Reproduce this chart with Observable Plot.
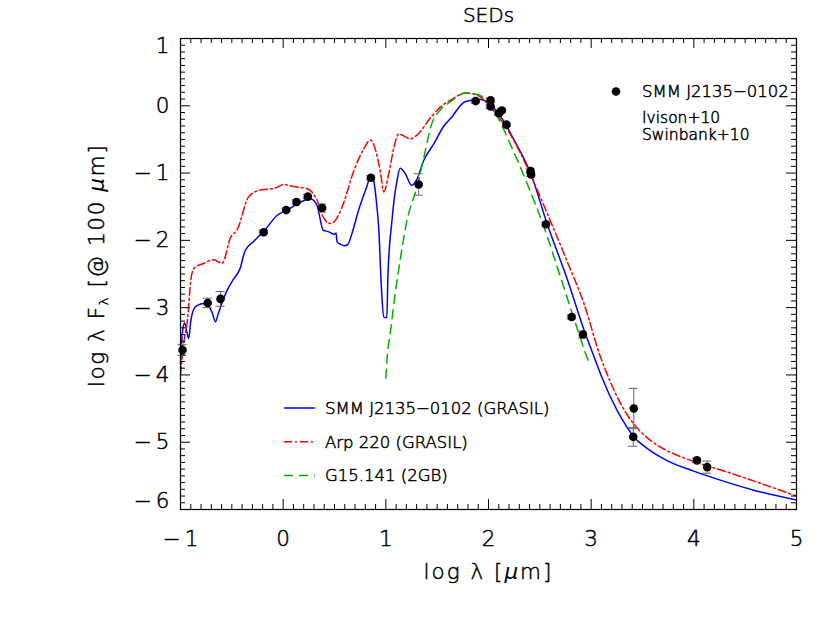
<!DOCTYPE html>
<html><head><meta charset="utf-8">
<script src="https://cdn.jsdelivr.net/npm/d3@7"></script>
<script src="https://cdn.jsdelivr.net/npm/@observablehq/plot@0.6"></script>
<style>
html,body{margin:0;padding:0;background:#fff;}
svg text{font-weight:200;stroke:#000;stroke-width:0.5px;}
svg text tspan.it{stroke-width:0;}
</style></head><body><div id="chart"></div>
<script>
// ---- Model curves (log lambda [um], log lambda F_lambda normalised @100um)
const blueX = [-1.00,-0.98,-0.96,-0.94,-0.92,-0.90,-0.87,-0.84,-0.77,-0.72,-0.69,-0.66,-0.63,-0.61,-0.545,-0.48,-0.42,-0.37,-0.29,-0.19,-0.06,0.04,0.135,0.265,0.33,0.39,0.44,0.50,0.515,0.525,0.56,0.60,0.63,0.67,0.735,0.815,0.855,0.88,0.91,0.93,0.96,0.98,1.01,1.02,1.06,1.11,1.14,1.19,1.25,1.30,1.37,1.47,1.565,1.63,1.776,1.92,2.00,2.085,2.25,2.41,2.57,2.77,2.93,3.04,3.10,3.25,3.35,3.42,3.50,3.60,3.75,4.00,4.25,4.60,5.00];
const blueY = [-3.85,-3.35,-3.23,-3.35,-3.46,-3.20,-3.02,-2.97,-2.94,-2.99,-3.08,-3.21,-3.08,-2.99,-2.74,-2.57,-2.42,-2.15,-2.02,-1.87,-1.63,-1.55,-1.46,-1.38,-1.48,-1.85,-1.87,-1.91,-1.89,-2.02,-2.06,-2.08,-2.06,-1.90,-1.55,-1.20,-1.03,-1.10,-1.45,-1.80,-2.79,-3.14,-3.15,-2.54,-1.70,-1.10,-0.93,-1.01,-1.18,-1.10,-0.81,-0.56,-0.30,-0.19,0.065,0.094,0.04,-0.09,-0.51,-1.00,-1.75,-2.59,-3.33,-3.78,-4.02,-4.52,-4.78,-4.93,-5.04,-5.15,-5.28,-5.43,-5.56,-5.72,-5.86];

const redX = [-1.00,-0.97,-0.93,-0.90,-0.87,-0.77,-0.675,-0.595,-0.51,-0.45,-0.335,-0.22,-0.09,0.006,0.10,0.23,0.33,0.395,0.46,0.51,0.575,0.69,0.785,0.85,0.90,0.95,0.98,1.03,1.08,1.125,1.24,1.30,1.43,1.53,1.63,1.776,1.89,2.02,2.28,2.42,2.60,2.76,2.93,3.09,3.14,3.285,3.41,3.50,3.64,3.80,3.97,4.36,5.00];
const redY = [-4.00,-3.55,-3.15,-2.60,-2.42,-2.34,-2.29,-2.34,-1.95,-1.85,-1.35,-1.25,-1.23,-1.17,-1.20,-1.23,-1.40,-1.67,-1.75,-1.70,-1.50,-0.96,-0.64,-0.51,-0.66,-1.01,-1.28,-1.00,-0.61,-0.42,-0.49,-0.44,-0.19,-0.02,0.083,0.19,0.16,-0.02,-0.61,-1.06,-1.70,-2.29,-2.94,-3.73,-3.93,-4.42,-4.72,-4.87,-5.04,-5.17,-5.27,-5.46,-5.80];

const greenX = [1.00,1.013,1.05,1.09,1.14,1.20,1.31,1.38,1.44,1.52,1.63,1.776,1.905,2.05,2.21,2.375,2.54,2.70,2.86,2.97,2.99];
const greenY = [-4.05,-3.75,-3.30,-2.80,-2.29,-1.75,-1.17,-0.70,-0.30,-0.08,0.06,0.19,0.16,-0.065,-0.56,-1.15,-1.80,-2.54,-3.29,-3.78,-3.85];

// ---- Photometry of SMM J2135-0102
const ptX   = [-0.98,-0.735,-0.61,-0.19,0.03,0.13,0.24,0.38,0.855,1.32,1.875,2.02,2.02,2.10,2.13,2.175,2.41,2.415,2.56,2.81,2.92,3.415,3.41,4.03,4.13];
const ptY   = [-3.63,-2.93,-2.87,-1.88,-1.55,-1.43,-1.35,-1.52,-1.07,-1.17,0.07,0.08,-0.01,-0.11,-0.07,-0.28,-0.97,-1.02,-1.76,-3.14,-3.40,-4.50,-4.92,-5.27,-5.37];
const ptErr = [0.08,0.07,0.11,0.03,0.03,0.03,0.03,0.06,0.03,0.16,0.03,0.03,0.03,0.03,0.03,0.03,0.03,0.03,0.03,0.03,0.05,0.30,0.14,0.03,0.09];

// ---- Axes / text
const xTicks = [-1,0,1,2,3,4,5];
const yTicks = [-6,-5,-4,-3,-2,-1,0,1];
const titleText = "SEDs";
const xTitle = "log λ [μm]";
const yTitle = "log λ Fλ [@ 100 μm]";
const dataLabel = "SMM J2135\u22120102";
const refLabels = ["Ivison+10", "Swinbank+10"];
const modelLabels = ["SMM J2135\u22120102 (GRASIL)", "Arp 220 (GRASIL)", "G15.141 (2GB)"];

const FONT = '"DejaVu Sans", "Liberation Sans", sans-serif';
const W = 830, H = 624, mL = 180, mR = 34, mT = 38, mB = 115;
const innerW = W - mL - mR, innerH = H - mT - mB;
const BLUE = "#0000ff", RED = "#ff0000", GREEN = "#00b000";
const RED_DASH = "8,3,2,3", GREEN_DASH = "9,6";

const rows = (xs, ys) => xs.map((x, i) => ({x, y: ys[i]}));
const blue = rows(blueX, blueY), red = rows(redX, redY), green = rows(greenX, greenY);
const points = ptX.map((x, i) => ({x, y: ptY[i], e: ptErr[i]}));

const xMinor = d3.range(-10, 51).map(i => i / 10).filter(v => Math.abs(v - Math.round(v)) > 1e-6);
const yMinor = d3.range(-60, 11).map(i => i / 10).filter(v => Math.abs(v - Math.round(v)) > 1e-6);
const fmt = d => d < 0 ? "\u2212\u2009" + Math.abs(d) : String(d);

function legend(index, scales, values, dims) {
  const g = d3.create("svg:g").attr("font-family", FONT).attr("font-size", 16.5)
    .attr("fill", "black").attr("text-anchor", "start");
  // upper right: data legend
  g.append("circle").attr("cx", 616).attr("cy", 91.5).attr("r", 4.3).attr("fill", "black");
  g.append("text").attr("x", 642).attr("y", 97).text(dataLabel);
  refLabels.forEach((t, i) => g.append("text").attr("x", 642).attr("y", 122.5 + i * 17.5)
    .attr("font-size", 15.5).text(t));
  // lower: model legend
  const styles = [[BLUE, null], [RED, RED_DASH], [GREEN, GREEN_DASH]];
  modelLabels.forEach((t, i) => {
    const y = 408 + i * 33.7;
    g.append("line").attr("x1", 284).attr("x2", 315).attr("y1", y).attr("y2", y)
      .attr("stroke", styles[i][0]).attr("stroke-width", 1.5)
      .attr("stroke-dasharray", styles[i][1]);
    g.append("text").attr("x", 325).attr("y", y + 6).text(t);
  });
  return g.node();
}

const tickStyle = {stroke: "black", strokeWidth: 1};

const chart = Plot.plot({
  width: W, height: H,
  marginLeft: mL, marginRight: mR, marginTop: mT, marginBottom: mB,
  style: {fontFamily: FONT, background: "white", color: "black"},
  x: {domain: [-1, 5], axis: null},
  y: {domain: [-6, 1], axis: null},
  marks: [
    Plot.line(blue, {x: "x", y: "y", stroke: BLUE, strokeWidth: 1.5, curve: "monotone-x"}),
    Plot.line(red, {x: "x", y: "y", stroke: RED, strokeWidth: 1.5, strokeDasharray: RED_DASH, curve: "monotone-x"}),
    Plot.line(green, {x: "x", y: "y", stroke: GREEN, strokeWidth: 1.5, strokeDasharray: GREEN_DASH, curve: "monotone-x"}),
    Plot.ruleX(points, {x: "x", y1: d => d.y - d.e, y2: d => d.y + d.e, stroke: "#666", strokeWidth: 1}),
    Plot.ruleY(points, {y: d => d.y - d.e, x1: "x", x2: "x", insetLeft: -4.5, insetRight: -4.5, stroke: "#666", strokeWidth: 1}),
    Plot.ruleY(points, {y: d => d.y + d.e, x1: "x", x2: "x", insetLeft: -4.5, insetRight: -4.5, stroke: "#666", strokeWidth: 1}),
    Plot.dot(points, {x: "x", y: "y", r: 4.3, fill: "black", stroke: null}),
    Plot.frame({stroke: "black", strokeWidth: 1.2}),
    // inward ticks, all four sides
    Plot.tickX(xTicks, {x: d => d, insetTop: innerH - 10, ...tickStyle}),
    Plot.tickX(xTicks, {x: d => d, insetBottom: innerH - 10, ...tickStyle}),
    Plot.tickX(xMinor, {x: d => d, insetTop: innerH - 5, ...tickStyle}),
    Plot.tickX(xMinor, {x: d => d, insetBottom: innerH - 5, ...tickStyle}),
    Plot.tickY(yTicks, {y: d => d, insetRight: innerW - 10, ...tickStyle}),
    Plot.tickY(yTicks, {y: d => d, insetLeft: innerW - 10, ...tickStyle}),
    Plot.tickY(yMinor, {y: d => d, insetRight: innerW - 5, ...tickStyle}),
    Plot.tickY(yMinor, {y: d => d, insetLeft: innerW - 5, ...tickStyle}),
    // tick labels
    Plot.axisX(xTicks, {anchor: "bottom", tickSize: 0, tickPadding: 21, tickFormat: fmt, fontSize: 21.5, label: null}),
    Plot.axisY(yTicks.slice(1, -1), {anchor: "left", tickSize: 0, tickPadding: 11, tickFormat: fmt, fontSize: 21.5, label: null}),
    Plot.axisY([1], {anchor: "left", tickSize: 0, tickPadding: 11, tickFormat: fmt, fontSize: 21.5, label: null, dy: 8}),
    Plot.axisY([-6], {anchor: "left", tickSize: 0, tickPadding: 11, tickFormat: fmt, fontSize: 21.5, label: null, dy: -8}),
    // titles
    Plot.text([titleText], {text: d => d, frameAnchor: "top", lineAnchor: "middle", textAnchor: "middle", dy: -23, fontSize: 20}),
    Plot.text([xTitle], {text: d => d, frameAnchor: "bottom", lineAnchor: "middle", textAnchor: "middle", dy: 63, fontSize: 21.5}),
    Plot.text([yTitle], {text: d => d, frameAnchor: "left", lineAnchor: "middle", textAnchor: "middle", dx: -83, dy: -8.5, rotate: -90, fontSize: 21.5}),
    legend
  ]
});

// rich text for axis titles (subscript lambda, italic mu)
d3.select(chart).selectAll("text").each(function() {
  const t = this.textContent;
  if (t === yTitle) {
    this.textContent = "";
    const s = d3.select(this).attr("letter-spacing", 1.6);
    s.append("tspan").text("log λ F");
    s.append("tspan").attr("font-size", 13).attr("dy", 4).text("λ");
    s.append("tspan").attr("dy", -4).text(" [@ 100 ");
    s.append("tspan").attr("class", "it").attr("font-style", "italic").text("μ");
    s.append("tspan").text("m]");
  } else if (t === xTitle) {
    this.textContent = "";
    const s = d3.select(this).attr("letter-spacing", 2);
    s.append("tspan").text("log λ [");
    s.append("tspan").attr("class", "it").attr("font-style", "italic").text("μ");
    s.append("tspan").text("m]");
  }
});

document.getElementById("chart").appendChild(chart);
</script></body></html>
